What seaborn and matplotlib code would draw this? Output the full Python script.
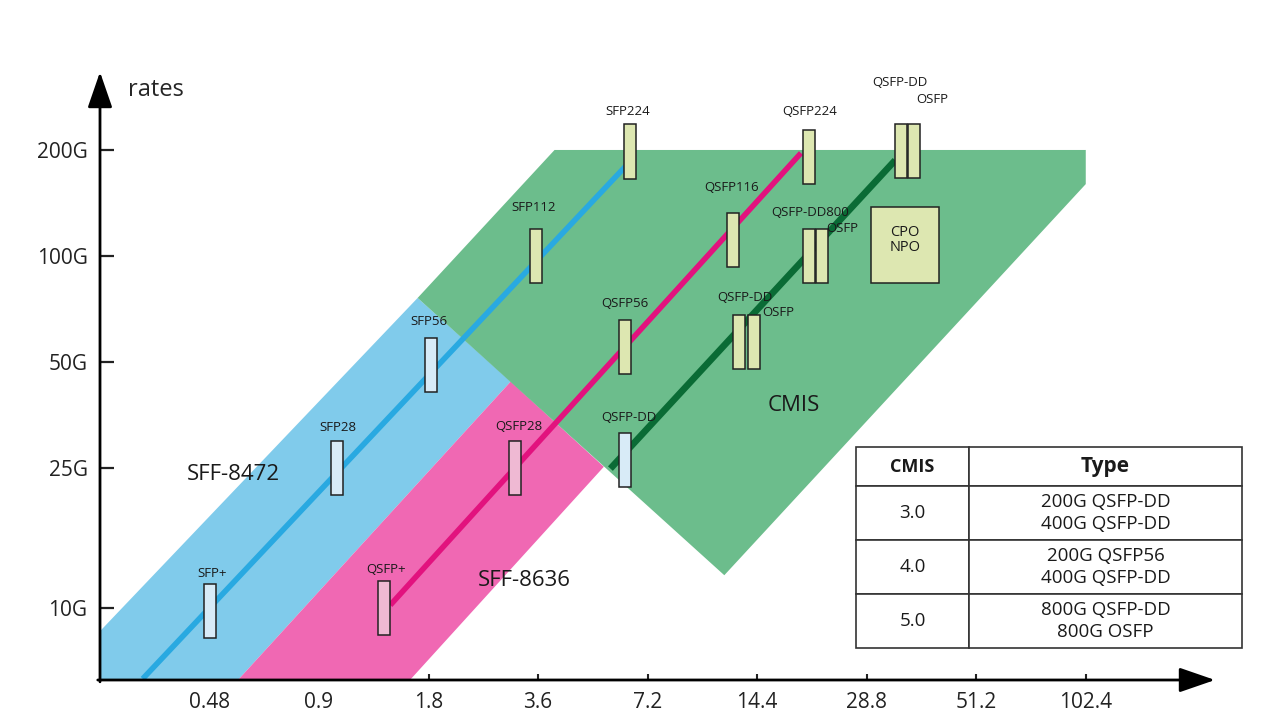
import numpy as np
import pandas as pd
import matplotlib.pyplot as plt
import seaborn as sns
from matplotlib.patches import Polygon, Rectangle
from matplotlib.ticker import NullLocator

# x axis: positions of the speed ticks, y axis: rates in G (log2 scale)
x_ticks = [1, 2, 3, 4, 5, 6, 7, 8, 9]
x_labels = ['0.48', '0.9', '1.8', '3.6', '7.2', '14.4', '28.8', '51.2', '102.4']
y_ticks = [10, 25, 50, 100, 200]
y_labels = ['10G', '25G', '50G', '100G', '200G']

# standard regions (x position, rate)
sff8472_x = [0, 0, 2.9, 3.75, 1.26]
sff8472_y = [6.25, 8.6, 76, 44, 6.25]
sff8636_x = [1.26, 3.75, 4.6, 2.83]
sff8636_y = [6.25, 44, 25.2, 6.25]
cmis_x = [2.9, 4.15, 9.0, 9.0, 5.7]
cmis_y = [76, 200, 200, 160, 12.4]

# evolution lines, two points each
line_family = ['SFP', 'SFP', 'QSFP', 'QSFP', 'QSFP-DD', 'QSFP-DD']
line_x = [0.39, 4.8, 2.65, 6.4, 4.66, 7.26]
line_y = [6.3, 180, 10.2, 196, 24.9, 187]

# modules: box position, fill kind, label position
module_names = ['SFP+', 'SFP28', 'SFP56', 'SFP112', 'SFP224',
                'QSFP+', 'QSFP28', 'QSFP56', 'QSFP116', 'QSFP224',
                'QSFP-DD', 'QSFP-DD', 'OSFP', 'QSFP-DD800', 'OSFP',
                'QSFP-DD', 'OSFP']
module_x = [1.0, 2.16, 3.02, 3.98, 4.84,
            2.59, 3.79, 4.79, 5.78, 6.47,
            4.79, 5.83, 5.97, 6.47, 6.59,
            7.31, 7.43]
module_rate = [9.8, 25, 49, 100, 198,
               10, 25, 55, 111, 191,
               26.4, 57, 57, 100, 100,
               199, 199]
module_kind = ['blue', 'blue', 'blue', 'green', 'green',
               'pink', 'pink', 'green', 'green', 'green',
               'blue', 'green', 'green', 'green', 'green',
               'green', 'green']
label_x = [1.02, 2.17, 3.0, 3.96, 4.82,
           2.61, 3.82, 4.79, 5.77, 6.48,
           4.83, 5.89, 6.19, 6.48, 6.78,
           7.30, 7.60]
label_rate = [12.5, 32.5, 65, 137, 258,
              12.9, 32.7, 73.5, 156, 258,
              34.7, 76.4, 69.3, 132.5, 120,
              310, 279]

cpo_x = [7.04, 7.66]
cpo_rate = [84, 138]

region_names = ['SFF-8472', 'SFF-8636', 'CMIS']
region_x = [1.215, 3.87, 6.33]
region_rate = [23.9, 12.0, 37.5]

table_header = ['CMIS', 'Type']
table_rows = [['3.0', '200G QSFP-DD\n400G QSFP-DD'],
              ['4.0', '200G QSFP56\n400G QSFP-DD'],
              ['5.0', '800G QSFP-DD\n800G OSFP']]

sns.set_theme(style='white')
plt.rcParams['font.family'] = ['Open Sans', 'DejaVu Sans']

fig = plt.figure(figsize=(12.67, 7.12), dpi=100)
ax = fig.add_axes([100 / 1267, 32 / 712, 1115 / 1267, 608 / 712])
ax.set_yscale('log', base=2)
ax.set_xlim(0, 10.18)
ax.set_ylim(6.25, 333)

band_colors = {'blue': '#80cbeb', 'pink': '#f068b3', 'green': '#6cbd8c'}
box_colors = {'blue': '#d8ebf7', 'pink': '#efb9d3', 'green': '#dde7b1'}

ax.add_patch(Polygon(list(zip(sff8472_x, sff8472_y)), closed=True,
                     facecolor=band_colors['blue'], edgecolor='none', zorder=1))
ax.add_patch(Polygon(list(zip(sff8636_x, sff8636_y)), closed=True,
                     facecolor=band_colors['pink'], edgecolor='none', zorder=1))
ax.add_patch(Polygon(list(zip(cmis_x, cmis_y)), closed=True,
                     facecolor=band_colors['green'], edgecolor='none', zorder=1.2))

lines = pd.DataFrame({'family': line_family, 'x': line_x, 'rate': line_y})
sns.lineplot(data=lines, x='x', y='rate', hue='family', sort=False, estimator=None,
             palette={'SFP': '#29a9e1', 'QSFP': '#e2127e', 'QSFP-DD': '#0a6b35'},
             linewidth=4, legend=False, ax=ax, zorder=2, solid_capstyle='butt')
ax.lines[-1].set_linewidth(4.8)

box_w = 0.11
box_half = 2 ** 0.255
for name, x, r, kind, lx, lr in zip(module_names, module_x, module_rate, module_kind,
                                      label_x, label_rate):
    ax.add_patch(Rectangle((x - box_w / 2, r / box_half), box_w, r * box_half - r / box_half,
                           facecolor=box_colors[kind], edgecolor='#222222', lw=1.1, zorder=3))
    ax.text(lx, lr, name, ha='center', va='center', fontsize=9.5, color='#1a1a1a', zorder=4)

ax.add_patch(Rectangle((cpo_x[0], cpo_rate[0]), cpo_x[1] - cpo_x[0], cpo_rate[1] - cpo_rate[0],
                       facecolor=box_colors['green'], edgecolor='#222222', lw=1.1, zorder=3))
ax.text(np.mean(cpo_x), np.sqrt(cpo_rate[0] * cpo_rate[1]) * 1.03, 'CPO\nNPO', ha='center',
        va='center', fontsize=10.5, linespacing=1.0, color='#1a1a1a', zorder=4)

for name, x, r in zip(region_names, region_x, region_rate):
    ax.text(x, r, name, ha='center', va='center', fontsize=16, color='#1a1a1a', zorder=4)

# axes with arrows
for s in ax.spines.values():
    s.set_visible(False)
arrow = dict(arrowstyle='-|>,head_length=1.1,head_width=0.38', color='black', lw=2,
             mutation_scale=20, shrinkA=0, shrinkB=0)
ax.annotate('', xy=(0, 1), xytext=(0, -0.003), xycoords='axes fraction', arrowprops=arrow)
ax.annotate('', xy=(1, 0), xytext=(-0.002, 0), xycoords='axes fraction', arrowprops=arrow)

ax.set_xticks(x_ticks)
ax.set_xticklabels(x_labels)
ax.set_yticks(y_ticks)
ax.set_yticklabels(y_labels)
ax.yaxis.set_minor_locator(NullLocator())
ax.tick_params(axis='y', direction='in', length=10, width=1.6, pad=9,
               labelsize=15, colors='#222222', left=True)
ax.tick_params(axis='x', direction='in', length=4, width=1.5, pad=9,
               labelsize=15, colors='#222222', bottom=True)
ax.set_xlabel('')
ax.set_ylabel('')
ax.text(0.025, 0.97, 'rates', transform=ax.transAxes, fontsize=17, ha='left', va='center')

# CMIS version table
tbl = ax.table(cellText=table_rows, colLabels=table_header, cellLoc='center',
               bbox=[756 / 1115, 32 / 608, 386 / 1115, 201 / 608])
tbl.auto_set_font_size(False)
for (row, col), cell in tbl.get_celld().items():
    cell.set_edgecolor('#333333')
    cell.set_linewidth(1.2)
    cell.set_facecolor('white')
    cell.set_width(113 if col == 0 else 273)
    cell.set_height(39 if row == 0 else 54)
    txt = cell.get_text()
    txt.set_linespacing(1.3)
    if row == 0:
        txt.set_fontweight('bold')
        txt.set_fontsize(13 if col == 0 else 15)
    else:
        txt.set_fontsize(13.5)
    txt.set_color('#1a1a1a')
tbl.set_zorder(5)
tbl.set_clip_on(False)

fig.savefig('out.png', dpi=100)
